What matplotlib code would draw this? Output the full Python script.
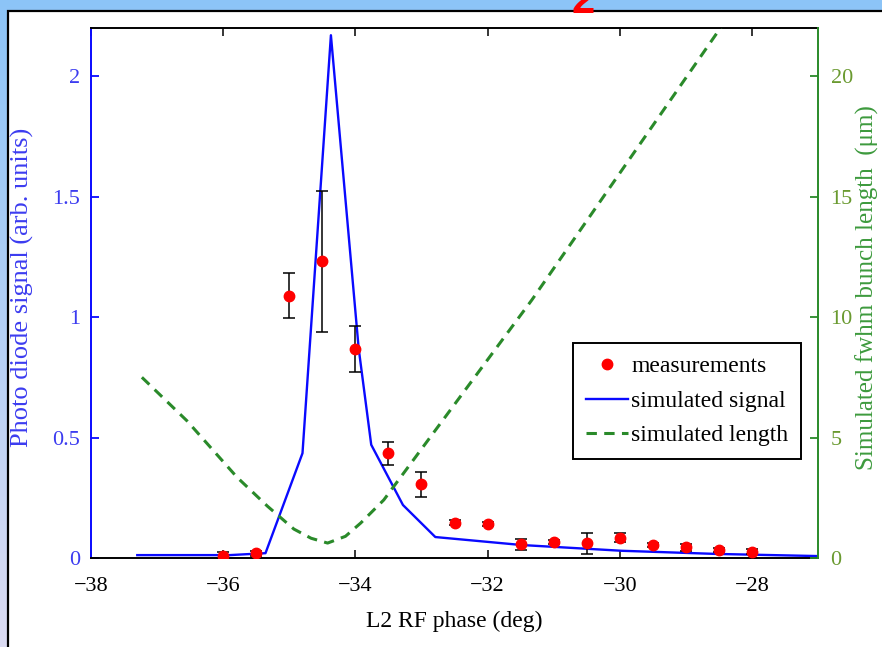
"""
Photo diode signal vs L2 RF phase, with simulated signal / bunch length.
Writes out.png (882 x 647 px).
"""

import numpy as np
import matplotlib
matplotlib.use("Agg")
import matplotlib.pyplot as plt
from matplotlib.patches import Rectangle

# ---------- data ----------
meas_phase = [-36.0, -35.5, -35.0, -34.5, -34.0, -33.5, -33.0, -32.5, -32.0,
              -31.5, -31.0, -30.5, -30.0, -29.5, -29.0, -28.5, -28.0]
meas_signal = [0.010, 0.020, 1.088, 1.231, 0.866, 0.434, 0.306, 0.147, 0.141,
               0.057, 0.065, 0.061, 0.084, 0.054, 0.044, 0.033, 0.026]
meas_err = [0.015, 0.010, 0.093, 0.293, 0.095, 0.048, 0.052, 0.012, 0.010,
            0.022, 0.008, 0.044, 0.019, 0.008, 0.015, 0.008, 0.010]

sim_phase = [-37.3, -35.9, -35.36, -34.80, -34.37, -33.95, -33.76, -33.28,
             -32.79, -31.49, -29.97, -28.55, -27.0]
sim_signal = [0.012, 0.012, 0.020, 0.435, 2.17, 0.87, 0.47, 0.22,
              0.087, 0.054, 0.030, 0.017, 0.008]

len_phase = [-37.23, -36.55, -35.79, -35.33, -34.93, -34.67, -34.42, -34.15,
             -33.92, -33.57, -31.33, -28.35]
len_um = [7.5, 5.7, 3.35, 2.15, 1.2, 0.82, 0.62, 0.9,
          1.45, 2.41, 10.71, 22.5]

x_ticks = [-38, -36, -34, -32, -30, -28]
left_ticks = [0, 0.5, 1, 1.5, 2]
left_ticklabels = ["0", "0.5", "1", "1.5", "2"]
right_ticks = [0, 5, 10, 15, 20]

BLUE = "#0a0aff"
BLUE_TXT = "#3c3cf0"
GREEN = "#2a8a2a"
GREEN_TICK = "#6a9a30"
GREEN_TXT = "#3d9a3d"

plt.rcParams.update({"font.family": ["Liberation Serif", "DejaVu Serif"],
                     "font.size": 16})

fig = plt.figure(figsize=(8.82, 6.47), dpi=100)

# slide background: light blue fading to lavender
bg = fig.add_axes([0, 0, 1, 1], zorder=-10)
top = np.array([0.55, 0.77, 0.97])
bot = np.array([0.86, 0.86, 0.95])
t = np.linspace(0, 1, 256)[:, None]
grad = top[None, :] * (1 - t) + bot[None, :] * t
bg.imshow(grad[:, None, :].repeat(2, axis=1), aspect="auto",
          extent=[0, 1, 0, 1], origin="upper")
bg.set_axis_off()

# white panel with black frame
W, H = 882.0, 647.0
fig.add_artist(Rectangle((8 / W, -0.05), 1.2, 1.05 - 11 / H,
                         transform=fig.transFigure, facecolor="white",
                         edgecolor="black", lw=1.6, zorder=-5))
fig.text(583 / W, 1 - 13 / H, "2", color="red", fontsize=30,
         fontweight="bold", ha="center", va="baseline",
         family="Liberation Sans")

ax = fig.add_axes([91 / W, 1 - 558 / H, (818 - 91) / W, (558 - 28) / H])
ax2 = ax.twinx()

ax.errorbar(meas_phase, meas_signal, yerr=meas_err, fmt="none",
            ecolor="black", elinewidth=1.1, capsize=4.3, capthick=1.1, zorder=3)
h_sim, = ax.plot(sim_phase, sim_signal, color=BLUE, lw=1.7, zorder=2,
                 label="simulated signal")
h_meas, = ax.plot(meas_phase, meas_signal, "o", color="red", ms=7.5, zorder=4,
                  label="measurements")
h_len, = ax2.plot(len_phase, len_um, color=GREEN, lw=2.2, ls=(0, (3.4, 2.4)),
                  label="simulated length")

ax.set_xlim(-38, -27)
ax.set_ylim(0, 2.2)
ax2.set_ylim(0, 22)

ax.set_xticks(x_ticks)
ax.set_yticks(left_ticks)
ax.set_yticklabels(left_ticklabels)
ax2.set_yticks(right_ticks)

ax.tick_params(axis="x", direction="in", length=6, width=1.1, top=True,
               pad=14, colors="black")
ax.tick_params(axis="y", direction="in", length=6, width=1.3,
               colors=BLUE, labelcolor=BLUE_TXT, pad=8)
ax2.tick_params(axis="y", direction="in", length=6, width=1.3,
                colors=GREEN, labelcolor=GREEN_TICK, pad=9)

for s in ("top", "bottom"):
    ax.spines[s].set_linewidth(1.4)
    ax2.spines[s].set_visible(False)
ax.spines["left"].set_color(BLUE)
ax.spines["left"].set_linewidth(1.4)
ax.spines["right"].set_visible(False)
ax2.spines["left"].set_visible(False)
ax2.spines["right"].set_color(GREEN)
ax2.spines["right"].set_linewidth(1.4)

ax.set_xlabel("L2 RF phase (deg)", fontsize=17, labelpad=10)
ax.set_ylabel("Photo diode signal (arb. units)", color=BLUE_TXT, fontsize=19)
ax.yaxis.set_label_coords(-0.078, 0.51)
ax2.set_ylabel("Simulated fwhm bunch length  (\u03bcm)", color=GREEN_TXT,
               fontsize=18)
ax2.yaxis.set_label_coords(1.052, 0.51)

handles = [h_meas, h_sim, h_len]
leg = ax.legend(handles, [h.get_label() for h in handles],
                loc="upper left", bbox_to_anchor=(0.663, 0.406),
                borderaxespad=0, fontsize=17, handlelength=1.8,
                handletextpad=0.12, labelspacing=0.55, borderpad=0.55,
                fancybox=False, framealpha=1, edgecolor="black")
leg.get_frame().set_linewidth(1.4)
leg.set_zorder(10)

fig.savefig("out.png", dpi=100)
